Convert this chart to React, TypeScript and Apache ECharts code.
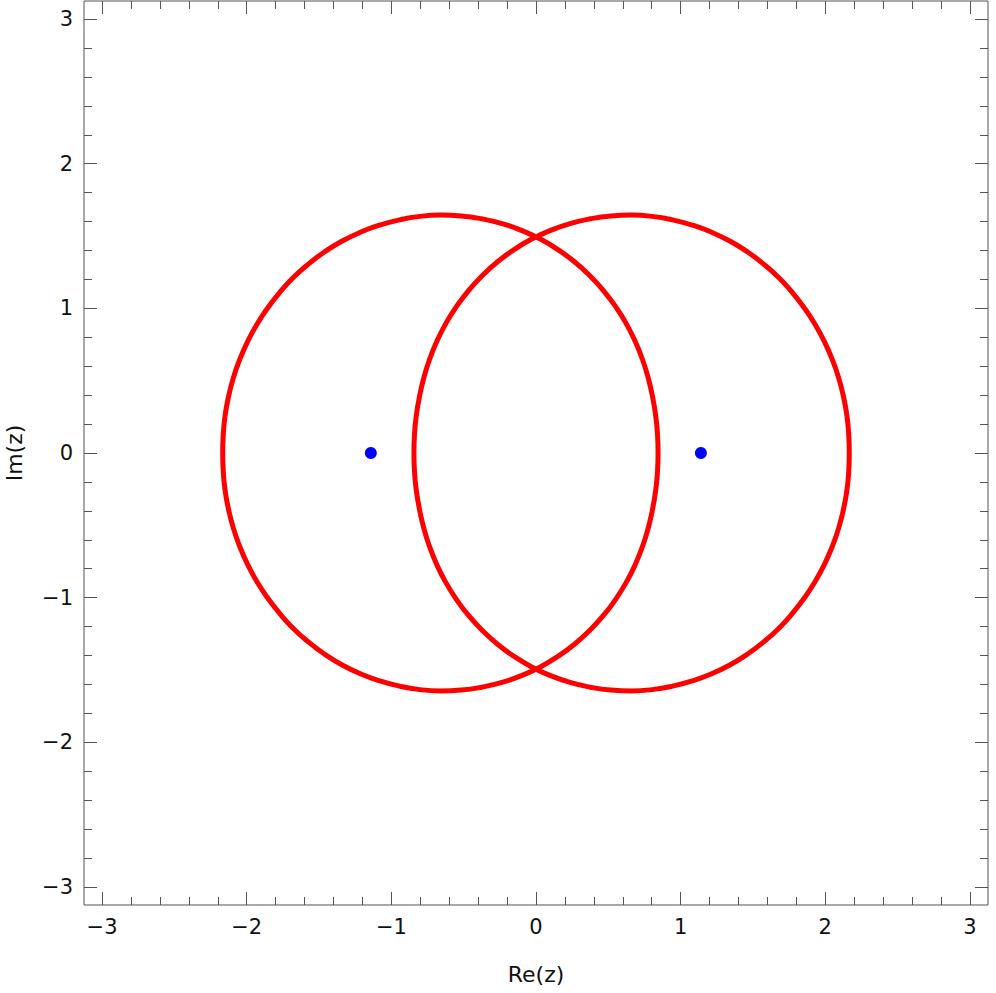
import React, { useEffect, useRef } from "react";
import * as echarts from "echarts";

// Axis range and ticks
const AXIS_MIN = -3.125;
const AXIS_MAX = 3.125;
const MAJOR_TICKS = [-3, -2, -1, 0, 1, 2, 3];
const MINOR_TICKS = [
  -2.8, -2.6, -2.4, -2.2, -1.8, -1.6, -1.4, -1.2, -0.8, -0.6, -0.4, -0.2,
  0.2, 0.4, 0.6, 0.8, 1.2, 1.4, 1.6, 1.8, 2.2, 2.4, 2.6, 2.8,
];

// Left closed curve, traced counter-clockwise
const LEFT_CURVE: number[][] = [
  [0.844, 0], [0.84, 0.131], [0.827, 0.262], [0.805, 0.393], [0.775, 0.522],
  [0.735, 0.65], [0.684, 0.776], [0.622, 0.898], [0.549, 1.014], [0.465, 1.125],
  [0.37, 1.228], [0.266, 1.322], [0.152, 1.406], [0.03, 1.479], [-0.1, 1.539],
  [-0.235, 1.586], [-0.375, 1.619], [-0.517, 1.639], [-0.66, 1.645], [-0.803, 1.636],
  [-0.944, 1.612], [-1.082, 1.575], [-1.215, 1.526], [-1.343, 1.464], [-1.463, 1.39],
  [-1.574, 1.306], [-1.678, 1.213], [-1.771, 1.111], [-1.855, 1.003], [-1.93, 0.889],
  [-1.994, 0.77], [-2.048, 0.647], [-2.092, 0.521], [-2.125, 0.393], [-2.149, 0.262],
  [-2.162, 0.131], [-2.166, 0],
  [-2.162, -0.131], [-2.149, -0.262], [-2.125, -0.393], [-2.092, -0.521], [-2.048, -0.647],
  [-1.994, -0.77], [-1.93, -0.889], [-1.855, -1.003], [-1.771, -1.111], [-1.678, -1.213],
  [-1.574, -1.306], [-1.463, -1.39], [-1.343, -1.464], [-1.215, -1.526], [-1.082, -1.575],
  [-0.944, -1.612], [-0.803, -1.636], [-0.66, -1.645], [-0.517, -1.639], [-0.375, -1.619],
  [-0.235, -1.586], [-0.1, -1.539], [0.03, -1.479], [0.152, -1.406], [0.266, -1.322],
  [0.37, -1.228], [0.465, -1.125], [0.549, -1.014], [0.622, -0.898], [0.684, -0.776],
  [0.735, -0.65], [0.775, -0.522], [0.805, -0.393], [0.827, -0.262], [0.84, -0.131],
  [0.844, 0], [0.84, 0.131],
];

// Right closed curve, traced clockwise
const RIGHT_CURVE: number[][] = [
  [-0.844, 0], [-0.84, 0.131], [-0.827, 0.262], [-0.805, 0.393], [-0.775, 0.522],
  [-0.735, 0.65], [-0.684, 0.776], [-0.622, 0.898], [-0.549, 1.014], [-0.465, 1.125],
  [-0.37, 1.228], [-0.266, 1.322], [-0.152, 1.406], [-0.03, 1.479], [0.1, 1.539],
  [0.235, 1.586], [0.375, 1.619], [0.517, 1.639], [0.66, 1.645], [0.803, 1.636],
  [0.944, 1.612], [1.082, 1.575], [1.215, 1.526], [1.343, 1.464], [1.463, 1.39],
  [1.574, 1.306], [1.678, 1.213], [1.771, 1.111], [1.855, 1.003], [1.93, 0.889],
  [1.994, 0.77], [2.048, 0.647], [2.092, 0.521], [2.125, 0.393], [2.149, 0.262],
  [2.162, 0.131], [2.166, 0],
  [2.162, -0.131], [2.149, -0.262], [2.125, -0.393], [2.092, -0.521], [2.048, -0.647],
  [1.994, -0.77], [1.93, -0.889], [1.855, -1.003], [1.771, -1.111], [1.678, -1.213],
  [1.574, -1.306], [1.463, -1.39], [1.343, -1.464], [1.215, -1.526], [1.082, -1.575],
  [0.944, -1.612], [0.803, -1.636], [0.66, -1.645], [0.517, -1.639], [0.375, -1.619],
  [0.235, -1.586], [0.1, -1.539], [-0.03, -1.479], [-0.152, -1.406], [-0.266, -1.322],
  [-0.37, -1.228], [-0.465, -1.125], [-0.549, -1.014], [-0.622, -0.898], [-0.684, -0.776],
  [-0.735, -0.65], [-0.775, -0.522], [-0.805, -0.393], [-0.827, -0.262], [-0.84, -0.131],
  [-0.844, 0], [-0.84, 0.131],
];

// Blue points
const POINTS: number[][] = [
  [-1.142, 0],
  [1.14, 0],
];

const FONT = "DejaVu Sans";
const AXIS_COLOR = "#555555";
const TEXT_COLOR = "#111111";

const fmt = (v: number) => (v < 0 ? "\u2212" + Math.abs(v) : String(v));

function majorAxis(position: string, withLabels: boolean, extra: any = {}) {
  return {
    type: "value",
    min: AXIS_MIN,
    max: AXIS_MAX,
    position,
    axisLine: { show: false, onZero: false },
    splitLine: { show: false },
    axisTick: {
      show: true,
      inside: true,
      length: 13,
      customValues: MAJOR_TICKS,
      lineStyle: { color: AXIS_COLOR, width: 1 },
    },
    axisLabel: {
      show: withLabels,
      customValues: MAJOR_TICKS,
      formatter: (v: number) => fmt(v),
      fontFamily: FONT,
      fontSize: 21,
      color: TEXT_COLOR,
      margin: 11,
    },
    ...extra,
  };
}

function minorAxis(position: string) {
  return {
    type: "value",
    min: AXIS_MIN,
    max: AXIS_MAX,
    position,
    axisLine: { show: false, onZero: false },
    splitLine: { show: false },
    axisTick: {
      show: true,
      inside: true,
      length: 8,
      customValues: MINOR_TICKS,
      lineStyle: { color: AXIS_COLOR, width: 1 },
    },
    axisLabel: { show: false },
  };
}

export default function App() {
  const ref = useRef<HTMLDivElement>(null);

  useEffect(() => {
    if (!ref.current) return;
    const chart = echarts.init(ref.current, undefined, { renderer: "svg" });
    const nameStyle = { fontFamily: FONT, fontSize: 22, color: TEXT_COLOR };
    chart.setOption({
      animation: false,
      backgroundColor: "#ffffff",
      grid: {
        show: true,
        left: 84,
        top: 1,
        width: 904,
        height: 904,
        containLabel: false,
        outerBoundsMode: "none",
        borderColor: AXIS_COLOR,
        borderWidth: 1,
        backgroundColor: "transparent",
      },
      xAxis: [
        majorAxis("bottom", true, {
          name: "Re(z)",
          nameLocation: "middle",
          nameGap: 58,
          nameTextStyle: nameStyle,
        }),
        minorAxis("bottom"),
        majorAxis("top", false),
        minorAxis("top"),
      ],
      yAxis: [
        majorAxis("left", true, {
          name: "Im(z)",
          nameLocation: "middle",
          nameGap: 59,
          nameTextStyle: nameStyle,
        }),
        minorAxis("left"),
        majorAxis("right", false),
        minorAxis("right"),
      ],
      series: [
        {
          type: "line",
          data: LEFT_CURVE,
          xAxisIndex: 0,
          yAxisIndex: 0,
          showSymbol: false,
          symbol: "none",
          smooth: 0.5,
          silent: true,
          lineStyle: { color: "#ff0000", width: 5 },
        },
        {
          type: "line",
          data: RIGHT_CURVE,
          xAxisIndex: 0,
          yAxisIndex: 0,
          showSymbol: false,
          symbol: "none",
          smooth: 0.5,
          silent: true,
          lineStyle: { color: "#ff0000", width: 5 },
        },
        {
          type: "scatter",
          data: POINTS,
          xAxisIndex: 0,
          yAxisIndex: 0,
          symbolSize: 12,
          silent: true,
          itemStyle: { color: "#0000ff", opacity: 1 },
        },
      ],
    });
    return () => chart.dispose();
  }, []);

  return (
    <div
      ref={ref}
      style={{ position: "fixed", left: 0, top: 0, width: 996, height: 993 }}
    />
  );
}
